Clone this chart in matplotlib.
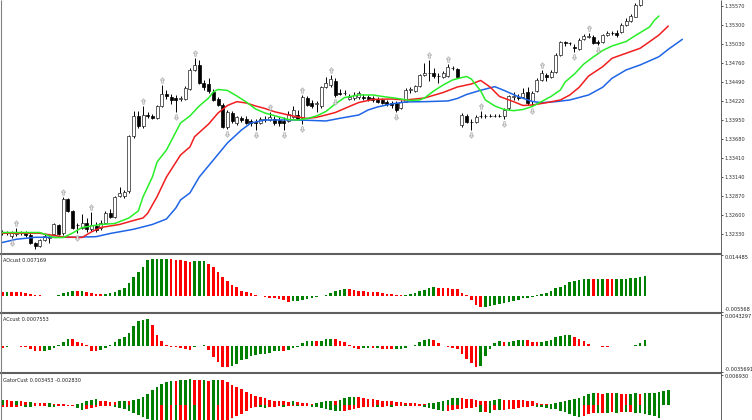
import matplotlib
matplotlib.use("Agg")
import matplotlib.pyplot as plt
import numpy as np
from matplotlib.path import Path
from matplotlib.lines import Line2D

# ---- price bars (index 0 = first visible bar) ----
opens = [1.32363, 1.32348, 1.32299, 1.32334, 1.32355, 1.32348, 1.32320, 1.32199, 1.32164, 1.32242,
         1.32277, 1.32334, 1.32462, 1.32341, 1.32824, 1.32661, 1.32462, 1.32419, 1.32490, 1.32405,
         1.32448, 1.32419, 1.32490, 1.32625, 1.32582, 1.32867, 1.32867, 1.32938, 1.33718, 1.34009,
         1.33860, 1.34023, 1.34009, 1.33980, 1.34144, 1.34314, 1.34283, 1.34264, 1.34250, 1.34250,
         1.34392, 1.34662, 1.34733, 1.34470, 1.34463, 1.34350, 1.34243, 1.34165, 1.33853, 1.34056,
         1.33909, 1.33976, 1.33973, 1.33931, 1.33923, 1.33916, 1.33952, 1.33952, 1.33973, 1.33952,
         1.33938, 1.33931, 1.33995, 1.34023, 1.33980, 1.34271, 1.34193, 1.34180, 1.34144, 1.34427,
         1.34449, 1.34510, 1.34335, 1.34335, 1.34250, 1.34264, 1.34278, 1.34278, 1.34283, 1.34257,
         1.34246, 1.34236, 1.34214, 1.34187, 1.34187, 1.34118, 1.34214, 1.34378, 1.34357, 1.34435,
         1.34591, 1.34615, 1.34615, 1.34576, 1.34569, 1.34576, 1.34686, 1.34672, 1.33881, 1.34009,
         1.33928, 1.33928, 1.34009, 1.34005, 1.34009, 1.34005, 1.34009, 1.34009, 1.34122, 1.34283,
         1.34278, 1.34283, 1.34350, 1.34222, 1.34357, 1.34520, 1.34591, 1.34569, 1.34640, 1.34874,
         1.35052, 1.35045, 1.34992, 1.34960, 1.35097, 1.35134, 1.35134, 1.35063, 1.35063, 1.35158,
         1.35182, 1.35191, 1.35205, 1.35300, 1.35361, 1.35418, 1.35584, 1.35726]
highs = [1.32391, 1.32377, 1.32377, 1.32419, 1.32377, 1.32377, 1.32348, 1.32221, 1.32263, 1.32334,
         1.32334, 1.32490, 1.32476, 1.32860, 1.32845, 1.32675, 1.32490, 1.32618, 1.32561, 1.32647,
         1.32505, 1.32533, 1.32661, 1.32689, 1.32874, 1.33001, 1.32959, 1.33739, 1.34080, 1.34080,
         1.34151, 1.34066, 1.34037, 1.34165, 1.34449, 1.34378, 1.34321, 1.34307, 1.34293, 1.34435,
         1.34690, 1.34832, 1.34804, 1.34520, 1.34548, 1.34392, 1.34278, 1.34193, 1.34094, 1.34080,
         1.34009, 1.34009, 1.34009, 1.33966, 1.33966, 1.33995, 1.34009, 1.34066, 1.34009, 1.33995,
         1.33995, 1.34080, 1.34151, 1.34094, 1.34307, 1.34293, 1.34236, 1.34222, 1.34435, 1.34562,
         1.34591, 1.34548, 1.34392, 1.34378, 1.34321, 1.34350, 1.34364, 1.34321, 1.34307, 1.34293,
         1.34278, 1.34264, 1.34236, 1.34222, 1.34222, 1.34236, 1.34406, 1.34420, 1.34449, 1.34605,
         1.34761, 1.34804, 1.34690, 1.34619, 1.34648, 1.34747, 1.34718, 1.34690, 1.34051, 1.34037,
         1.33966, 1.34023, 1.34080, 1.34037, 1.34030, 1.34030, 1.34030, 1.34122, 1.34307, 1.34350,
         1.34321, 1.34406, 1.34420, 1.34364, 1.34548, 1.34662, 1.34619, 1.34655, 1.34903, 1.35073,
         1.35073, 1.35059, 1.35030, 1.35116, 1.35172, 1.35187, 1.35158, 1.35087, 1.35172, 1.35215,
         1.35215, 1.35229, 1.35329, 1.35400, 1.35456, 1.35612, 1.35754, 1.35840]
lows = [1.32320, 1.32320, 1.32277, 1.32306, 1.32320, 1.32292, 1.32192, 1.32121, 1.32150, 1.32235,
        1.32206, 1.32320, 1.32320, 1.32320, 1.32647, 1.32405, 1.32348, 1.32405, 1.32363, 1.32377,
        1.32363, 1.32391, 1.32476, 1.32561, 1.32561, 1.32860, 1.32845, 1.32916, 1.33696, 1.33838,
        1.33838, 1.33980, 1.33966, 1.33966, 1.34137, 1.34250, 1.34180, 1.34066, 1.34222, 1.34236,
        1.34378, 1.34648, 1.34463, 1.34378, 1.34335, 1.34222, 1.34151, 1.33838, 1.33824, 1.33909,
        1.33881, 1.33923, 1.33895, 1.33867, 1.33810, 1.33895, 1.33923, 1.33938, 1.33881, 1.33867,
        1.33810, 1.33923, 1.33980, 1.33952, 1.33895, 1.34151, 1.34122, 1.34066, 1.34122, 1.34406,
        1.34420, 1.34278, 1.34300, 1.34307, 1.34236, 1.34236, 1.34250, 1.34236, 1.34222, 1.34208,
        1.34193, 1.34180, 1.34151, 1.34122, 1.34066, 1.34108, 1.34208, 1.34335, 1.34350, 1.34420,
        1.34576, 1.34505, 1.34548, 1.34477, 1.34548, 1.34562, 1.34662, 1.34562, 1.33853, 1.33909,
        1.33810, 1.33909, 1.33980, 1.33980, 1.33988, 1.33988, 1.33988, 1.33966, 1.34094, 1.34236,
        1.34236, 1.34264, 1.34165, 1.34151, 1.34350, 1.34505, 1.34505, 1.34548, 1.34620, 1.34860,
        1.35002, 1.35016, 1.34917, 1.34945, 1.35087, 1.35116, 1.35030, 1.35016, 1.35045, 1.35144,
        1.35158, 1.35130, 1.35187, 1.35286, 1.35343, 1.35414, 1.35570, 1.35712]
closes = [1.32348, 1.32363, 1.32355, 1.32363, 1.32341, 1.32320, 1.32206, 1.32157, 1.32249, 1.32299,
          1.32292, 1.32469, 1.32334, 1.32831, 1.32654, 1.32419, 1.32455, 1.32490, 1.32405, 1.32462,
          1.32391, 1.32490, 1.32625, 1.32582, 1.32860, 1.32909, 1.32931, 1.33725, 1.34009, 1.33860,
          1.34023, 1.34002, 1.33976, 1.34151, 1.34314, 1.34286, 1.34229, 1.34236, 1.34264, 1.34399,
          1.34662, 1.34733, 1.34477, 1.34427, 1.34357, 1.34236, 1.34165, 1.33853, 1.34066, 1.33931,
          1.33988, 1.33952, 1.33914, 1.33909, 1.33916, 1.33959, 1.33973, 1.33988, 1.33909, 1.33909,
          1.33909, 1.34037, 1.34094, 1.33966, 1.34278, 1.34165, 1.34151, 1.34187, 1.34420, 1.34477,
          1.34534, 1.34307, 1.34314, 1.34342, 1.34278, 1.34307, 1.34328, 1.34264, 1.34246, 1.34236,
          1.34214, 1.34193, 1.34175, 1.34165, 1.34094, 1.34214, 1.34378, 1.34385, 1.34435, 1.34591,
          1.34612, 1.34619, 1.34576, 1.34572, 1.34612, 1.34697, 1.34690, 1.34567, 1.34023, 1.33928,
          1.33923, 1.33999, 1.34005, 1.34009, 1.34005, 1.34009, 1.34005, 1.34094, 1.34293, 1.34288,
          1.34264, 1.34331, 1.34193, 1.34335, 1.34520, 1.34612, 1.34567, 1.34640, 1.34874, 1.35059,
          1.35038, 1.35038, 1.34970, 1.35094, 1.35144, 1.35144, 1.35040, 1.35040, 1.35158, 1.35182,
          1.35180, 1.35158, 1.35300, 1.35361, 1.35428, 1.35584, 1.35726, 1.35825]

fractal_up = [3, 13, 19, 30, 34, 41, 57, 64, 70, 91, 95, 102, 115, 125]
fractal_down = [2, 16, 37, 48, 54, 60, 64, 71, 84, 100, 107, 113, 122, 127]

# ---- alligator lines (bar index incl. forward shift, price) ----
jaw_x = [0, 3, 7, 15, 20, 23, 28, 32, 35, 37, 38, 40, 42, 45, 48, 51, 53, 56, 62, 65,
         69, 72, 76, 78, 80, 83, 86, 90, 95, 97, 99, 102, 105, 107, 110, 113, 115, 118, 121, 125,
         128, 130, 133, 136, 140, 142, 145]
jaw_y = [1.32213, 1.32259, 1.32287, 1.32287, 1.32296, 1.32341, 1.32401, 1.32469, 1.32547, 1.32703,
         1.32817, 1.32916, 1.33143, 1.33384, 1.33626, 1.33810, 1.33909, 1.33952, 1.33952, 1.33948,
         1.33938, 1.33976, 1.34023, 1.34094, 1.34137, 1.34180, 1.34208, 1.34212, 1.34222, 1.34257,
         1.34314, 1.34374, 1.34425, 1.34371, 1.34283, 1.34215, 1.34197, 1.34212, 1.34236, 1.34307,
         1.34416, 1.34544, 1.34662, 1.34733, 1.34850, 1.34955, 1.35097]
teeth_x = [0, 8, 13, 17, 19, 21, 25, 28, 30, 31, 33, 35, 38, 40, 41, 44, 46, 48, 50, 52,
           54, 56, 58, 61, 63, 65, 67, 69, 71, 74, 76, 79, 83, 86, 90, 94, 97, 100, 102, 104,
           106, 109, 111, 113, 116, 119, 121, 123, 125, 128, 130, 133, 136, 138, 140, 142]
teeth_y = [1.32344, 1.32344, 1.32292, 1.32284, 1.32363, 1.32426, 1.32469, 1.32526, 1.32561, 1.32628,
           1.32864, 1.33143, 1.33455, 1.33569, 1.33715, 1.33895, 1.34051, 1.34158, 1.34212, 1.34193,
           1.34151, 1.34115, 1.34070, 1.34023, 1.33995, 1.33973, 1.33990, 1.34023, 1.34058, 1.34144,
           1.34200, 1.34243, 1.34250, 1.34236, 1.34264, 1.34342, 1.34420, 1.34463, 1.34513, 1.34420,
           1.34286, 1.34212, 1.34158, 1.34165, 1.34197, 1.34236, 1.34307, 1.34416, 1.34576, 1.34708,
           1.34828, 1.34899, 1.34970, 1.35063, 1.35158, 1.35286]
lips_x = [0, 8, 11, 13, 15, 17, 21, 24, 27, 29, 30, 32, 33, 35, 37, 38, 40, 42, 44, 45,
          46, 48, 50, 52, 54, 56, 59, 61, 63, 65, 67, 69, 71, 73, 76, 79, 81, 84, 87, 89,
          90, 92, 94, 96, 98, 99, 100, 102, 103, 105, 107, 109, 111, 113, 115, 117, 119, 120, 122, 124,
          126, 128, 130, 133, 135, 138, 139, 140]
lips_y = [1.32355, 1.32355, 1.32284, 1.32284, 1.32348, 1.32426, 1.32469, 1.32483, 1.32561, 1.32661,
          1.32860, 1.33143, 1.33356, 1.33526, 1.33781, 1.33909, 1.34009, 1.34151, 1.34264, 1.34350,
          1.34385, 1.34371, 1.34293, 1.34208, 1.34108, 1.34051, 1.33995, 1.33959, 1.33952, 1.33973,
          1.34009, 1.34073, 1.34180, 1.34271, 1.34307, 1.34307, 1.34286, 1.34260, 1.34229, 1.34236,
          1.34264, 1.34364, 1.34449, 1.34520, 1.34555, 1.34569, 1.34534, 1.34364, 1.34236, 1.34151,
          1.34101, 1.34084, 1.34101, 1.34144, 1.34215, 1.34286, 1.34378, 1.34491, 1.34605, 1.34747,
          1.34846, 1.34938, 1.35002, 1.35066, 1.35151, 1.35272, 1.35364, 1.35428]

# ---- oscillators ----
ao = [0.00148, 0.00150, 0.00148, 0.00142, 0.00136, 0.00113, 0.00089, 0.00054, 0.00030, 0.00013,
      0.00004, 0.00019, 0.00054, 0.00101, 0.00160, 0.00183, 0.00177, 0.00189, 0.00148, 0.00101,
      0.00077, 0.00066, 0.00077, 0.00095, 0.00136, 0.00218, 0.00289, 0.00453, 0.00664, 0.00852,
      0.01039, 0.01274, 0.01309, 0.01315, 0.01321, 0.01323, 0.01297, 0.01286, 0.01262, 0.01239,
      0.01203, 0.01221, 0.01233, 0.01239, 0.01133, 0.01039, 0.00840, 0.00687, 0.00547, 0.00406,
      0.00312, 0.00195, 0.00136, 0.00101, 0.00042, 0.00007, -0.00016, -0.00052, -0.00075, -0.00099,
      -0.00134, -0.00192, -0.00181, -0.00169, -0.00134, -0.00099, -0.00063, -0.00040, -0.00011, 0.00030,
      0.00101, 0.00171, 0.00230, 0.00253, 0.00242, 0.00206, 0.00183, 0.00171, 0.00160, 0.00148,
      0.00136, 0.00113, 0.00089, 0.00066, 0.00054, 0.00042, 0.00054, 0.00077, 0.00113, 0.00171,
      0.00230, 0.00289, 0.00312, 0.00300, 0.00289, 0.00277, 0.00265, 0.00242, 0.00113, 0.00030,
      -0.00134, -0.00298, -0.00392, -0.00368, -0.00333, -0.00298, -0.00274, -0.00251, -0.00216, -0.00157,
      -0.00122, -0.00075, -0.00052, -0.00028, 0.00030, 0.00066, 0.00113, 0.00171, 0.00277, 0.00335,
      0.00406, 0.00488, 0.00547, 0.00582, 0.00605, 0.00617, 0.00605, 0.00611, 0.00617, 0.00605,
      0.00594, 0.00605, 0.00611, 0.00617, 0.00623, 0.00640, 0.00687, 0.007169]
ac = [-0.00035, -0.00012, -0.00005, -0.00008, -0.00012, -0.00016, -0.00044, -0.00066, -0.00075, -0.00066,
      -0.00057, -0.00025, 0.00015, 0.00047, 0.00093, 0.00088, 0.00047, 0.00034, 0.00006, -0.00066,
      -0.00075, -0.00057, -0.00030, 0.00015, 0.00047, 0.00093, 0.00124, 0.00170, 0.00274, 0.00342,
      0.00356, 0.00361, 0.00283, 0.00147, 0.00061, 0.00011, -0.00012, -0.00021, -0.00035, -0.00044,
      -0.00053, -0.00021, -0.00003, 0.00005, -0.00057, -0.00157, -0.00216, -0.00284, -0.00293, -0.00275,
      -0.00248, -0.00193, -0.00175, -0.00139, -0.00130, -0.00116, -0.00107, -0.00094, -0.00075, -0.00066,
      -0.00075, -0.00062, -0.00030, -0.00016, 0.00034, 0.00061, 0.00070, 0.00061, 0.00070, 0.00088,
      0.00093, 0.00088, 0.00061, 0.00047, 0.00015, -0.00030, -0.00039, -0.00035, -0.00030, -0.00035,
      -0.00030, -0.00039, -0.00044, -0.00046, -0.00039, -0.00037, -0.00030, -0.00003, 0.00015, 0.00047,
      0.00079, 0.00093, 0.00079, 0.00034, 0.00002, -0.00021, -0.00035, -0.00044, -0.00110, -0.00175,
      -0.00235, -0.00284, -0.00272, -0.00136, -0.00046, 0.00034, 0.00061, 0.00047, 0.00052, 0.00061,
      0.00079, 0.00084, 0.00081, 0.00052, 0.00047, 0.00056, 0.00061, 0.00079, 0.00124, 0.00133,
      0.00143, 0.00149, 0.00124, 0.00088, 0.00061, 0.00025, 0.00002, -0.00007, -0.00010, -0.00012,
      -0.00007, -0.00005, -0.00003, -0.00001, 0.00002, 0.00015, 0.00043, 0.0007553]
gator_up = [0.00123, 0.00116, 0.00101, 0.00104, 0.00086, 0.00071, 0.00075, 0.00056, 0.00053, 0.00049,
            0.00053, 0.00034, 0.00027, 0.00019, 0.00012, 0.00008, 0.00019, 0.00041, 0.00101, 0.00123,
            0.00130, 0.00101, 0.00086, 0.00079, 0.00075, 0.00097, 0.00101, 0.00093, 0.00116, 0.00138,
            0.00175, 0.00249, 0.00338, 0.00412, 0.00471, 0.00523, 0.00545, 0.00538, 0.00560, 0.00568,
            0.00575, 0.00560, 0.00556, 0.00560, 0.00545, 0.00553, 0.00560, 0.00553, 0.00508, 0.00449,
            0.00412, 0.00368, 0.00301, 0.00249, 0.00205, 0.00175, 0.00153, 0.00123, 0.00101, 0.00093,
            0.00086, 0.00079, 0.00086, 0.00071, 0.00056, 0.00041, 0.00034, 0.00049, 0.00064, 0.00086,
            0.00101, 0.00093, 0.00123, 0.00153, 0.00175, 0.00186, 0.00182, 0.00160, 0.00145, 0.00130,
            0.00116, 0.00101, 0.00093, 0.00086, 0.00071, 0.00064, 0.00056, 0.00049, 0.00041, 0.00034,
            0.00027, 0.00041, 0.00056, 0.00071, 0.00101, 0.00123, 0.00153, 0.00167, 0.00160, 0.00145,
            0.00130, 0.00115, 0.00100, 0.00090, 0.00100, 0.00123, 0.00130, 0.00123, 0.00119, 0.00116,
            0.00112, 0.00108, 0.00101, 0.00093, 0.00049, 0.00027, 0.00019, 0.00027, 0.00041, 0.00064,
            0.00093, 0.00116, 0.00130, 0.00160, 0.00205, 0.00249, 0.00264, 0.00260, 0.00256, 0.00264,
            0.00260, 0.00264, 0.00256, 0.00249, 0.00256, 0.00264, 0.00256, 0.00264, 0.00271, 0.00279,
            0.00286, 0.00323, 0.003453]
gator_dn = [-0.00040, -0.00040, -0.00033, -0.00033, -0.00025, -0.00033, -0.00036, -0.00025, -0.00025, -0.00021,
            -0.00033, -0.00040, -0.00025, -0.00018, -0.00010, -0.00010, -0.00062, -0.00107, -0.00084, -0.00055,
            -0.00040, -0.00025, -0.00018, -0.00014, -0.00033, -0.00062, -0.00084, -0.00122, -0.00166, -0.00210,
            -0.00270, -0.00314, -0.00360, -0.00410, -0.00400, -0.00440, -0.00420, -0.00460, -0.00440, -0.00410,
            -0.00450, -0.00480, -0.00450, -0.00470, -0.00440, -0.00460, -0.00420, -0.00380, -0.00340, -0.00290,
            -0.00250, -0.00190, -0.00120, -0.00060, -0.00036, -0.00048, -0.00062, -0.00040, -0.00030, -0.00025,
            -0.00030, -0.00022, -0.00018, -0.00025, -0.00018, -0.00012, -0.00030, -0.00048, -0.00062, -0.00090,
            -0.00107, -0.00122, -0.00137, -0.00125, -0.00107, -0.00084, -0.00062, -0.00048, -0.00040, -0.00033,
            -0.00036, -0.00030, -0.00025, -0.00033, -0.00025, -0.00018, -0.00025, -0.00018, -0.00012, -0.00008,
            -0.00030, -0.00062, -0.00084, -0.00107, -0.00122, -0.00122, -0.00107, -0.00092, -0.00080, -0.00070,
            -0.00062, -0.00047, -0.00159, -0.00159, -0.00166, -0.00107, -0.00110, -0.00107, -0.00092, -0.00077,
            -0.00062, -0.00047, -0.00033, -0.00025, -0.00033, -0.00040, -0.00055, -0.00077, -0.00092, -0.00122,
            -0.00159, -0.00196, -0.00233, -0.00255, -0.00240, -0.00196, -0.00166, -0.00181, -0.00166, -0.00173,
            -0.00159, -0.00166, -0.00151, -0.00159, -0.00151, -0.00166, -0.00181, -0.00203, -0.00218, -0.00233,
            -0.00283]

price_ticks = [1.32330, 1.32600, 1.32870, 1.33140, 1.33410, 1.33680, 1.33950,
               1.34220, 1.34490, 1.34760, 1.35030, 1.35300, 1.35570]
ao_range = (-0.005568, 0.014485)
ac_range = (-0.0035691, 0.0043297)
gator_top = 0.006930

GREEN, RED = "#008000", "#ff0000"
JAW, TEETH, LIPS = "#1e64e6", "#f01e1e", "#28ee28"
FS = 3.6

plt.rcParams["font.family"] = ["DejaVu Sans"]

W, H = 752, 420
fig = plt.figure(figsize=(W / 100, H / 100), dpi=100)
fig.patch.set_facecolor("white")


def panel(top, bottom):
    return fig.add_axes([2 / W, 1 - bottom / H, 718.5 / W, (bottom - top) / H])


ax = panel(0, 253)
ax_ao = panel(255, 312)
ax_ac = panel(314, 372)
ax_gt = panel(374, 420)

XLIM = (-0.064, 153.13)
for a in (ax, ax_ao, ax_ac, ax_gt):
    a.set_xlim(*XLIM)
    a.set_xticks([])
    for s in a.spines.values():
        s.set_visible(False)
    a.set_facecolor("white")

# ---- candles ----
o, h, l, c = map(np.array, (opens, highs, lows, closes))
x = np.arange(len(o))
ax.vlines(x, l, h, color="black", lw=0.7, zorder=2)
bull = c >= o
body_lo = np.minimum(o, c)
body_h = np.maximum(np.abs(c - o), 0.00004)
ax.bar(x[bull], body_h[bull], bottom=body_lo[bull], width=0.64,
       color="white", edgecolor="#202020", lw=0.5, zorder=2.5)
ax.bar(x[~bull], body_h[~bull], bottom=body_lo[~bull], width=0.64,
       color="black", edgecolor="black", lw=0.5, zorder=2.5)

# ---- alligator ----
ax.plot(jaw_x, jaw_y, color=JAW, lw=1.1, zorder=3, solid_capstyle="round")
ax.plot(teeth_x, teeth_y, color=TEETH, lw=1.1, zorder=3, solid_capstyle="round")
ax.plot(lips_x, lips_y, color=LIPS, lw=1.1, zorder=3, solid_capstyle="round")

# ---- fractals ----
arrow_up = Path([(0, 1), (-0.8, 0.1), (-0.3, 0.1), (-0.3, -1), (0.3, -1), (0.3, 0.1), (0.8, 0.1), (0, 1)],
                [Path.MOVETO] + [Path.LINETO] * 6 + [Path.CLOSEPOLY])
arrow_dn = Path([(px, -py) for px, py in arrow_up.vertices], arrow_up.codes)
gap = 0.0007
ax.plot(fractal_up, h[fractal_up] + gap, ls="none", marker=arrow_up, ms=4,
        mfc="#e0e0e0", mec="#a0a0a0", mew=0.4, zorder=4)
ax.plot(fractal_down, l[fractal_down] - gap, ls="none", marker=arrow_dn, ms=4,
        mfc="#e0e0e0", mec="#a0a0a0", mew=0.4, zorder=4)

ax.set_ylim(1.32064, 1.35655)
ax.yaxis.tick_right()
ax.set_yticks(price_ticks)
ax.set_yticklabels([f"{t:.5f}" for t in price_ticks])
ax.tick_params(axis="y", direction="out", length=1.6, width=0.6, pad=1.4,
               labelsize=FS, colors="#303030")


# ---- histograms ----
def colors_by_rise(vals, first):
    v = np.asarray(vals)
    up = np.concatenate([[first], v[1:] > v[:-1]])
    return np.where(up, GREEN, RED)


ao_v = np.array(ao)
ax_ao.bar(np.arange(len(ao_v)), ao_v, width=0.56, color=colors_by_rise(ao_v, False), lw=0)
ax_ao.set_ylim(*ao_range)

ac_v = np.array(ac)
ax_ac.bar(np.arange(len(ac_v)), ac_v, width=0.56, color=colors_by_rise(ac_v, False), lw=0)
ax_ac.set_ylim(*ac_range)

gu = np.array(gator_up)
gd = np.array(gator_dn)
ax_gt.bar(np.arange(len(gu)), gu, width=0.56, color=colors_by_rise(gu, True), lw=0)
ax_gt.bar(np.arange(len(gd)), gd, width=0.56, color=colors_by_rise(np.abs(gd), False), lw=0)
ax_gt.set_ylim(gator_top - 46 / 4500, gator_top)

for a in (ax_ao, ax_ac, ax_gt):
    a.set_yticks([])

# ---- titles and scale labels ----
def fig_text(px, py, s, **kw):
    fig.text(px / W, 1 - py / H, s, fontsize=FS, color="#202020", va="center", **kw)


fig_text(3, 260, f"AOcust {ao[-1]:.6f}")
fig_text(3, 319.7, f"ACcust {ac[-1]:.7f}")
fig_text(3, 380.7, f"GatorCust {gator_up[-1]:.6f} {gator_dn[-1]:.6f}")

fig_text(724.5, 257.5, f"{ao_range[1]:.6f}")
fig_text(724.5, 309.3, f"{ao_range[0]:.6f}")
fig_text(724.5, 316.5, f"{ac_range[1]:.7f}")
fig_text(724.5, 369.2, f"{ac_range[0]:.7f}")
fig_text(724.5, 377, f"{gator_top:.6f}")

# ---- frame lines ----
def fig_line(xs, ys, lw, color):
    fig.add_artist(Line2D([v / W for v in xs], [1 - v / H for v in ys],
                          lw=lw, color=color, solid_capstyle="butt"))


for ysep in (254, 313, 373):
    fig_line((0, 721), (ysep, ysep), 1.5, "#5f5f5f")
fig_line((1.5, 1.5), (0, 420), 0.8, "#808080")
fig_line((720.5, 720.5), (0, 420), 0.7, "#606060")
for ytk in (255.5, 311.5, 314.5, 371.5, 374.5):
    fig_line((720.5, 722.5), (ytk, ytk), 0.6, "#404040")

fig.savefig("out.png", dpi=100, facecolor="white")
